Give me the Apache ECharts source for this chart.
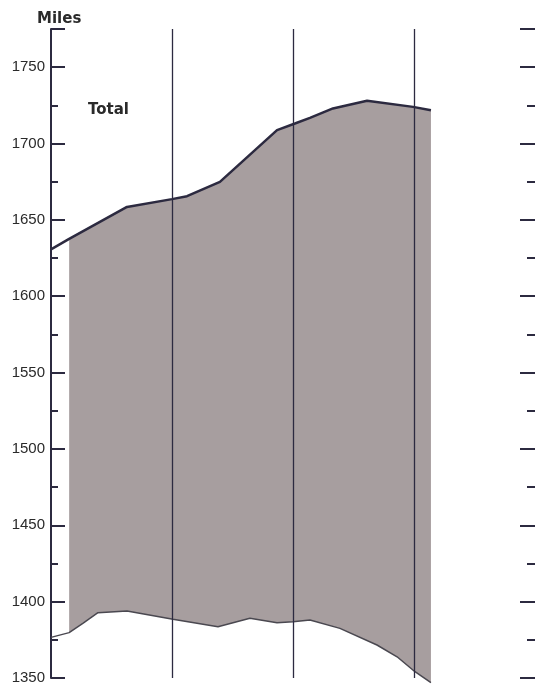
<!DOCTYPE html>
<html>
<head>
<meta charset="utf-8">
<script src="https://cdn.jsdelivr.net/npm/echarts@6/dist/echarts.min.js"></script>
<style>html,body{margin:0;padding:0;background:#fff;}#c{width:535px;height:690px;}</style>
</head>
<body>
<div id="c"></div>
<script>
// x positions in interval units (vertical rules every 5 units)
const xTop = [0, 0.75, 3.14, 5.0, 5.62, 6.98, 9.34, 10.08, 10.70, 11.65, 13.06, 14.96, 15.70];
const totalMiles = [1630.7, 1637.6, 1658.5, 1663.6, 1665.5, 1674.9, 1708.8, 1713.1, 1716.8, 1723.0, 1728.0, 1724.0, 1721.8];
const xBottom = [0, 0.75, 1.33, 1.94, 3.14, 5.04, 6.90, 8.22, 9.34, 10.0, 10.70, 11.94, 13.47, 14.30, 15.04, 15.70];
const lowerMiles = [1376.6, 1379.7, 1386.0, 1392.8, 1393.9, 1388.4, 1383.6, 1389.1, 1386.2, 1386.9, 1388.0, 1382.5, 1371.6, 1363.9, 1354.1, 1346.9];
const yTickLabels = [1350, 1400, 1450, 1500, 1550, 1600, 1650, 1700, 1750];
const verticalRules = [5, 10, 15];

const ink = '#2c2a40';
const chart = echarts.init(document.getElementById('c'), null, {renderer: 'canvas'});

const topPts = xTop.map((x, i) => [x, totalMiles[i]]);
const botPts = xBottom.map((x, i) => [x, lowerMiles[i]]);

function yAx(pos, interval, len, labels) {
  return {
    type: 'value', position: pos, min: 1350, max: 1775, interval: interval,
    axisLine: {show: pos === 'left' && labels, lineStyle: {color: ink, width: 2}},
    axisTick: {show: true, inside: true, length: len, lineStyle: {color: ink, width: 2}},
    axisLabel: labels ? {
      show: true, margin: 6, fontSize: 15, fontFamily: 'Liberation Sans', color: '#2a2a2a',
      formatter: v => yTickLabels.indexOf(v) >= 0 ? String(v) : ''
    } : {show: false},
    splitLine: {show: false}
  };
}

chart.setOption({
  animation: false,
  backgroundColor: '#fff',
  title: [
    {text: 'Miles', left: 32, top: 7, textStyle: {fontFamily: 'DejaVu Sans', fontWeight: 'bold', fontSize: 15, color: '#2a2a2a'}},
    {text: 'Total', left: 83, top: 98, textStyle: {fontFamily: 'DejaVu Sans', fontWeight: 'bold', fontSize: 15, color: '#2a2a2a'}}
  ],
  grid: {left: 51, right: 0, top: 29, bottom: 12},
  xAxis: {
    type: 'value', min: 0, max: 20,
    axisLine: {show: false}, axisTick: {show: false}, axisLabel: {show: false}, splitLine: {show: false}
  },
  yAxis: [
    yAx('left', 50, 14, true),
    yAx('left', 25, 7, false),
    yAx('right', 50, 15, false),
    yAx('right', 25, 8, false)
  ],
  series: [
    {
      type: 'custom', z: 1, clip: false,
      data: [[0]],
      renderItem: function (params, api) {
        const pts = [];
        for (let i = 1; i < topPts.length; i++) pts.push(api.coord(topPts[i]));
        for (let i = botPts.length - 1; i >= 1; i--) pts.push(api.coord(botPts[i]));
        return {type: 'polygon', shape: {points: pts}, style: {fill: '#a79e9f'}};
      }
    },
    {
      type: 'line', z: 3, clip: false, data: botPts, symbol: 'none',
      lineStyle: {color: '#4a4850', width: 1.5}
    },
    {
      type: 'line', z: 4, clip: false, data: topPts, symbol: 'none',
      lineStyle: {color: ink, width: 2.5},
      markLine: {
        silent: true, symbol: 'none', label: {show: false},
        lineStyle: {color: ink, width: 1.3, type: 'solid'},
        data: verticalRules.map(v => ({xAxis: v}))
      }
    }
  ]
});
</script>
</body>
</html>
